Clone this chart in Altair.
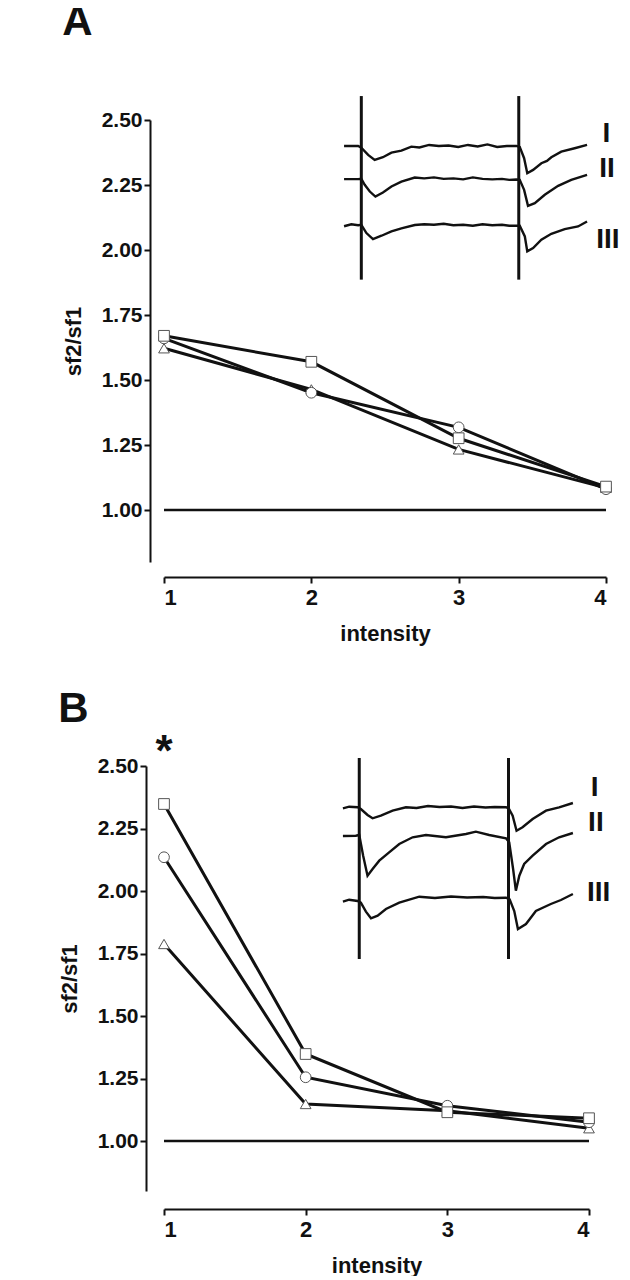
import altair as alt
import pandas as pd

# ---------------- main data ----------------
intensity = [1, 2, 3, 4]
series_names = ["square", "circle", "triangle"]
draw_rank = [2, 1, 0]  # square drawn on top

a_square = [1.670, 1.570, 1.276, 1.090]
a_circle = [1.660, 1.451, 1.318, 1.080]
a_triangle = [1.622, 1.464, 1.233, 1.085]

b_square = [2.348, 1.348, 1.115, 1.091]
b_circle = [2.135, 1.255, 1.141, 1.075]
b_triangle = [1.788, 1.148, 1.121, 1.051]

y_ticks = [1.0, 1.25, 1.5, 1.75, 2.0, 2.25, 2.5]
x_ticks = [1, 2, 3, 4]
reference_value = 1.0

# ---------------- inset traces (time units 0..100, amplitude units) ----------------
a_tr1_t = [0, 5.8, 7.1, 9.9, 12.6, 16, 19.5, 23.6, 27.7, 31, 35, 39, 43, 47, 51, 55, 59, 63, 67, 70.9, 72.3, 74.1, 75.4, 77.8, 81.2, 83.5, 85.3, 89.4, 94.9, 100]
a_tr1_v = [8.0, 8.0, 7.83, 7.1, 6.6, 6.87, 7.33, 7.53, 7.93, 7.85, 8.1, 8.0, 8.05, 7.9, 8.1, 7.95, 8.15, 7.9, 8.0, 8.0, 7.9, 6.77, 5.27, 5.6, 6.27, 6.5, 6.87, 7.43, 7.77, 8.1]
a_tr2_t = [0, 5.8, 7.1, 8.5, 10.6, 12.9, 16, 19.5, 23.6, 29.1, 33, 37, 41, 45, 49, 53, 57, 61, 65, 68, 70.9, 72.3, 74.1, 75.7, 78.5, 82.6, 88.1, 93.5, 100]
a_tr2_v = [4.67, 4.67, 4.7, 4.1, 3.43, 2.93, 3.33, 3.93, 4.43, 4.83, 4.75, 4.85, 4.7, 4.75, 4.65, 4.85, 4.7, 4.65, 4.7, 4.6, 4.63, 4.6, 3.6, 2.0, 2.27, 3.1, 4.0, 4.6, 5.1]
a_tr3_t = [0, 3, 5.8, 7.1, 9.2, 11.9, 15.4, 19.5, 23.6, 29.1, 33, 37, 41, 45, 49, 53, 57, 61, 65, 68, 70.9, 72.3, 74.4, 75.4, 77.8, 81.2, 85.3, 90.8, 96.3, 100]
a_tr3_v = [-0.05, 0.15, 0.05, 0.1, -0.73, -1.33, -1.0, -0.57, -0.27, 0.07, 0.15, 0.1, 0.2, 0.05, 0.1, 0.0, 0.15, 0.05, 0.1, 0.0, 0.0, 0.0, -1.07, -2.57, -2.23, -1.4, -0.8, -0.33, -0.07, 0.43]

b_tr1_t = [0, 2.7, 6.4, 7.8, 10.7, 12.9, 16.5, 21.6, 27.4, 32, 37, 42, 47, 52, 57, 62, 66, 70.9, 72, 73.8, 75.5, 78.1, 82.5, 88.3, 94, 100]
b_tr1_v = [9.27, 9.43, 9.37, 9.2, 8.6, 8.27, 8.53, 9.03, 9.37, 9.3, 9.5, 9.4, 9.45, 9.3, 9.45, 9.35, 9.4, 9.37, 9.3, 8.53, 7.03, 7.37, 8.2, 9.03, 9.37, 9.8]
b_tr2_t = [0, 5.6, 7.1, 8.8, 10.7, 12.9, 15.8, 20.1, 24.5, 30.3, 36.1, 44.8, 53.5, 57.8, 63.6, 70.9, 72.3, 74, 75.2, 76.7, 78.8, 82.5, 88.3, 94, 100]
b_tr2_v = [6.5, 6.53, 6.6, 4.53, 2.53, 3.2, 4.03, 4.87, 5.7, 6.37, 6.6, 6.37, 6.7, 6.93, 6.6, 6.27, 5.87, 3.2, 1.03, 2.53, 3.7, 4.53, 5.7, 6.37, 6.8]
b_tr3_t = [0, 2.7, 6.4, 7.8, 10, 12.2, 15.1, 18.7, 24.5, 33.2, 40, 47, 54, 61, 66, 70.9, 72.5, 74.5, 76.1, 79.6, 83.9, 90.4, 94.8, 100]
b_tr3_v = [-0.07, 0.13, 0.0, -0.17, -1.07, -1.73, -1.47, -0.8, -0.17, 0.43, 0.3, 0.45, 0.35, 0.4, 0.3, 0.33, 0.17, -1.0, -2.8, -2.3, -1.0, -0.3, 0.1, 0.7]

a_stim_t = [7.1, 71.9]
a_stim_top, a_stim_bottom = 13.0, -5.4
b_stim_t = [7.1, 72.0]
b_stim_top, b_stim_bottom = 14.3, -5.8

trace_labels = ["I", "II", "III"]
a_label_t = [108.0, 108.2, 108.6]
a_label_v = [9.2, 5.7, -1.4]
b_label_t = [109.5, 110.0, 111.2]
b_label_v = [11.3, 7.8, 0.8]

FONT = "Liberation Sans"
INK = "#111111"


def main_df(sq, ci, tr):
    rows = []
    for name, rank, vals in zip(series_names, draw_rank, [sq, ci, tr]):
        for x, v in zip(intensity, vals):
            rows.append({"series": name, "rank": rank, "intensity": x, "value": v})
    return pd.DataFrame(rows)


def trace_df(ts, vs):
    rows = []
    for k, (tt, vv) in enumerate(zip(ts, vs)):
        for i, (a, b) in enumerate(zip(tt, vv)):
            rows.append({"trace": trace_labels[k], "i": i, "t": a, "v": b})
    return pd.DataFrame(rows)


def panel(letter, sq, ci, tr, widths, traces, stim_t, stim_top, stim_bottom,
          label_t, label_v, w, h, y_off, x_off, t_dom, v_dom, title_offset, star):
    df = main_df(sq, ci, tr)
    xs = alt.Scale(domain=[1, 4], nice=False, zero=False)
    ys = alt.Scale(domain=[0.8, 2.5], nice=False, zero=False)
    x_axis = alt.Axis(values=x_ticks, format="d", title="intensity", offset=x_off,
                      domainWidth=2, domainColor=INK, tickWidth=2, tickColor=INK, tickSize=6,
                      labelFont=FONT, labelFontSize=22, labelFontWeight="bold", labelColor=INK,
                      labelPadding=4, titleFont=FONT, titleFontSize=22, titleFontWeight="bold",
                      titleColor=INK, titlePadding=15, grid=False)
    y_axis = alt.Axis(values=y_ticks, format=".2f", title="sf2/sf1", offset=y_off,
                      domainWidth=2, domainColor=INK, tickWidth=2, tickColor=INK, tickSize=6,
                      labelFont=FONT, labelFontSize=21, labelFontWeight="bold", labelColor=INK,
                      labelPadding=2, titleFont=FONT, titleFontSize=22, titleFontWeight="bold",
                      titleColor=INK, titlePadding=16, grid=False)

    lines = alt.Chart(df).mark_line(color=INK).encode(
        x=alt.X("intensity:Q", scale=xs, axis=x_axis),
        y=alt.Y("value:Q", scale=ys, axis=y_axis),
        detail="series:N",
        strokeWidth=alt.StrokeWidth("series:N", scale=alt.Scale(domain=series_names, range=widths), legend=None),
    )
    pts = alt.Chart(df).mark_point(filled=True, fill="white", stroke="#555555", strokeWidth=1,
                                   opacity=1, size=115).encode(
        x="intensity:Q", y="value:Q",
        shape=alt.Shape("series:N", scale=alt.Scale(domain=series_names,
                                                    range=["square", "circle", "triangle-up"]), legend=None),
        order=alt.Order("rank:Q", sort="ascending"),
    )
    ref = alt.Chart(pd.DataFrame({"x1": [intensity[0]], "x2": [intensity[-1]], "y": [reference_value]})).mark_rule(
        color=INK, strokeWidth=2.5).encode(x="x1:Q", x2="x2:Q", y="y:Q")
    layers = [ref, lines, pts]
    if star:
        st = alt.Chart(pd.DataFrame({"x": [intensity[0]], "y": [y_ticks[-1]], "s": ["*"]})).mark_text(
            font=FONT, fontSize=44, fontWeight="bold", baseline="alphabetic", align="center", color=INK
        ).encode(x="x:Q", y="y:Q", text="s:N")
        layers.append(st)
    main = alt.layer(*layers)

    tdf = trace_df(*traces)
    ts = alt.Scale(domain=t_dom, nice=False, zero=False)
    vs = alt.Scale(domain=v_dom, nice=False, zero=False)
    tl = alt.Chart(tdf).mark_line(color=INK, strokeWidth=2.4).encode(
        x=alt.X("t:Q", scale=ts, axis=None), y=alt.Y("v:Q", scale=vs, axis=None),
        detail="trace:N", order="i:Q")
    sdf = pd.DataFrame({"t": stim_t, "top": [stim_top] * len(stim_t), "bottom": [stim_bottom] * len(stim_t)})
    stim = alt.Chart(sdf).mark_rule(color=INK, strokeWidth=3).encode(x="t:Q", y="top:Q", y2="bottom:Q")
    ldf = pd.DataFrame({"label": trace_labels, "t": label_t, "v": label_v})
    lab = alt.Chart(ldf).mark_text(font=FONT, fontSize=28, fontWeight="bold", baseline="middle",
                                   align="center", color=INK).encode(x="t:Q", y="v:Q", text="label:N")
    inset = alt.layer(tl, stim, lab)

    return alt.layer(main, inset).resolve_scale(x="independent", y="independent").properties(
        width=w, height=h,
        title=alt.TitleParams(letter, anchor="start", frame="bounds", font=FONT, fontSize=42,
                              fontWeight="bold", color=INK, offset=title_offset),
    )


pa = panel("A", a_square, a_circle, a_triangle, [3, 3, 2],
           ([a_tr1_t, a_tr2_t, a_tr3_t], [a_tr1_v, a_tr2_v, a_tr3_v]),
           a_stim_t, a_stim_top, a_stim_bottom, a_label_t, a_label_v,
           442, 442, 14, 15, [-74.1, 107.8], [-33.7, 10.6], 51, False)
pb = panel("B", b_square, b_circle, b_triangle, [3.5, 3.5, 3.5],
           ([b_tr1_t, b_tr2_t, b_tr3_t], [b_tr1_v, b_tr2_v, b_tr3_v]),
           b_stim_t, b_stim_top, b_stim_bottom, b_label_t, b_label_v,
           425, 425, 18, 18, [-77.8, 107.0], [-29.0, 13.5], 0, True)

chart = alt.vconcat(pa, pb, spacing=44).properties(
    padding={"left": 50, "top": -8, "right": 0, "bottom": 0}
).configure(background="white").configure_view(stroke=None)

chart.save("out.html", embed_options={"renderer": "svg", "actions": False})
